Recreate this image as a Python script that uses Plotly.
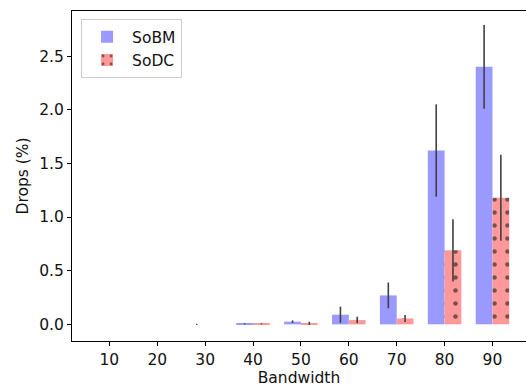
import plotly.graph_objects as go

bandwidth = ["10", "20", "30", "40", "50", "60", "70", "80", "90"]
sobm = [0, 0, 0.0, 0.005, 0.025, 0.09, 0.27, 1.62, 2.40]
sobm_err = [0, 0, 0.005, 0.005, 0.012, 0.075, 0.12, 0.43, 0.39]
sodc = [0, 0, 0, 0.005, 0.01, 0.04, 0.055, 0.69, 1.18]
sodc_err = [0, 0, 0, 0.005, 0.015, 0.03, 0.032, 0.29, 0.40]

font = "DejaVu Sans"
fs = 15.5
err_style = dict(type="data", visible=True, color="#404040", thickness=1.6, width=0)

fig = go.Figure()
fig.add_trace(go.Bar(
    x=bandwidth, y=sobm, name="SoBM",
    marker=dict(color="#9999ff", line=dict(width=0)),
    error_y=dict(array=sobm_err, **err_style),
))
fig.add_trace(go.Bar(
    x=bandwidth, y=sodc, name="SoDC",
    marker=dict(color="#ff9999", line=dict(width=0),
                pattern=dict(shape=".", fgcolor="black", bgcolor="#ff9999",
                             size=13, solidity=0.1, fillmode="overlay")),
    error_y=dict(array=sodc_err, **err_style),
))

fig.update_layout(
    width=526, height=388,
    margin=dict(l=72, r=0, t=10.5, b=47),
    plot_bgcolor="white", paper_bgcolor="white",
    barmode="group", bargap=0.3, bargroupgap=0,
    font=dict(family=font, size=fs, color="#111111"),
    showlegend=True,
    legend=dict(x=0.02, y=0.975, xanchor="left", yanchor="top",
                bgcolor="white", bordercolor="#cccccc", borderwidth=1,
                font=dict(size=fs), itemwidth=40, tracegroupgap=0),
    xaxis=dict(
        type="category", range=[-0.78, 8.70], automargin=False,
        showline=True, linecolor="black", linewidth=1, mirror=True,
        ticks="outside", ticklen=4, tickcolor="black",
        showgrid=False, zeroline=False,
        title=dict(text="Bandwidth", standoff=4, font=dict(size=fs)),
    ),
    yaxis=dict(
        range=[-0.155, 2.92], automargin=False,
        tickvals=[0, 0.5, 1.0, 1.5, 2.0, 2.5],
        ticktext=["0.0", "0.5", "1.0", "1.5", "2.0", "2.5"],
        showline=True, linecolor="black", linewidth=1,
        ticks="outside", ticklen=4, tickcolor="black",
        showgrid=False, zeroline=False,
        title=dict(text="Drops (%)", standoff=6, font=dict(size=fs)),
    ),
)

fig.write_html("out.html",
               config={"displayModeBar": False},
               post_script="document.body.style.margin='0';document.body.style.overflow='hidden';")
